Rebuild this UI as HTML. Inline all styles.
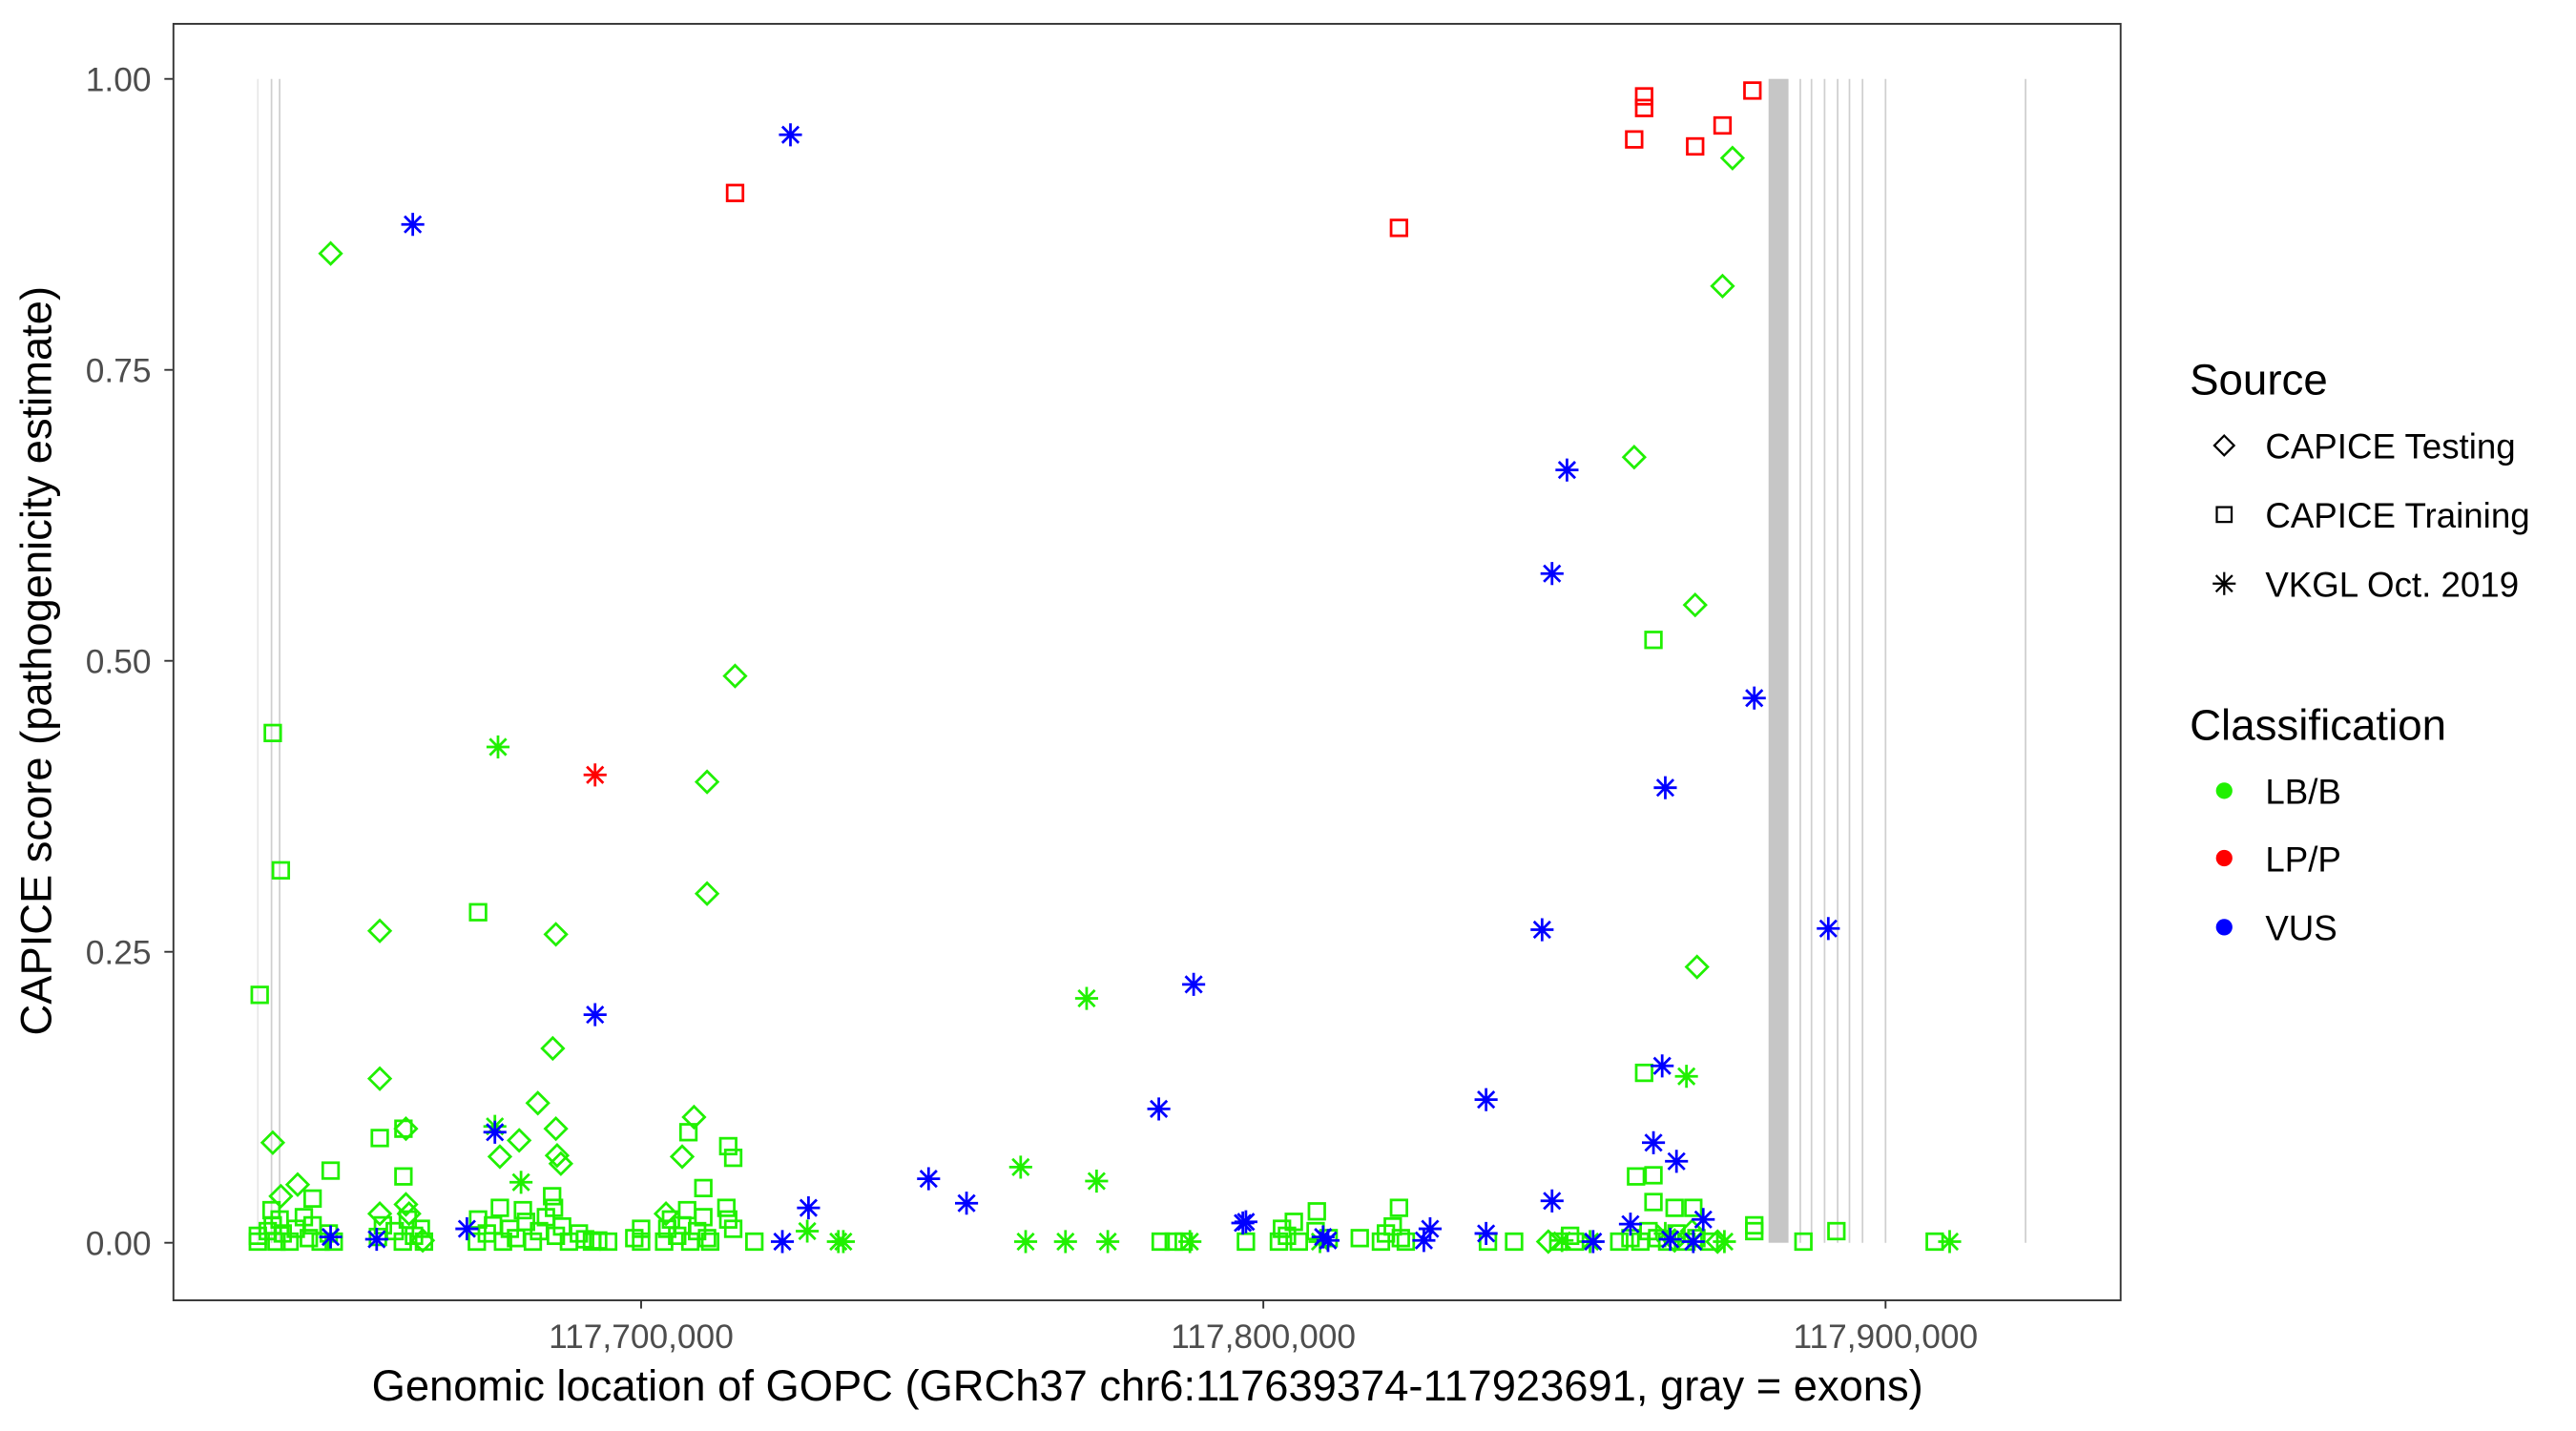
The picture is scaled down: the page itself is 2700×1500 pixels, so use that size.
<!DOCTYPE html>
<html><head><meta charset="utf-8"><style>
html,body{margin:0;padding:0;background:#fff;}
svg{display:block;font-family:"Liberation Sans",sans-serif;}
</style></head><body>
<svg id="chart" width="2700" height="1500" viewBox="0 0 1567 870.5" preserveAspectRatio="none" xmlns="http://www.w3.org/2000/svg">
<rect x="0" y="0" width="1567" height="870.5" fill="#fff"/>
<g id="exons"></g>
<g id="points"></g>
<rect x="105.5" y="14.5" width="1184.5" height="776.5" fill="none" stroke="#333" stroke-width="1.1"/>
<g id="axes"></g>
<text transform="translate(31,402) rotate(-90)" text-anchor="middle" font-size="26.3" fill="#000">CAPICE score (pathogenicity estimate)</text>
<text x="698" y="852" text-anchor="middle" font-size="26.3" fill="#000">Genomic location of GOPC (GRCh37 chr6:117639374-117923691, gray = exons)</text>
<g font-size="21.3">
<text x="1332" y="240" font-size="26.5">Source</text>
<path d="M1353,265 L1359,271 L1353,277 L1347,271 Z" fill="none" stroke="#000" stroke-width="1.3"/>
<text x="1378" y="279">CAPICE Testing</text>
<rect x="1348.5" y="308.5" width="9" height="9" fill="none" stroke="#000" stroke-width="1.3"/>
<text x="1378" y="321">CAPICE Training</text>
<g stroke="#000" stroke-width="1.3"><line x1="1353" y1="348" x2="1353" y2="362"/><line x1="1346" y1="355" x2="1360" y2="355"/><line x1="1348" y1="350" x2="1358" y2="360"/><line x1="1348" y1="360" x2="1358" y2="350"/></g>
<text x="1378" y="363">VKGL Oct. 2019</text>
<text x="1332" y="450" font-size="26.5">Classification</text>
<circle cx="1353" cy="481" r="5" fill="#20f000"/>
<text x="1378" y="489">LB/B</text>
<circle cx="1353" cy="522" r="5" fill="#ff0000"/>
<text x="1378" y="530">LP/P</text>
<circle cx="1353" cy="564" r="5" fill="#0000ff"/>
<text x="1378" y="572">VUS</text>
</g>
</svg>
<script>
// positions in kb (117,xxx.x kb), scores 0..1
const xTicks = [117700, 117800, 117900];
const xTickLabels = ["117,700,000", "117,800,000", "117,900,000"];
const yTicks = [0, 0.25, 0.5, 0.75, 1];
const yTickLabels = ["0.00", "0.25", "0.50", "0.75", "1.00"];
const exonLinesKb = [117638.4, 117640.6, 117641.9, 117886.3, 117888.1, 117890.2, 117892.3, 117894.2, 117896.3, 117900.0, 117922.5];
const exonBandStart = 117881.2;
const exonBandEnd = 117884.4;

const redSqPos = [117715.1, 117821.8, 117859.6, 117861.2, 117861.2, 117869.4, 117873.8, 117878.6];
const redSqVal = [0.902, 0.872, 0.948, 0.985, 0.975, 0.942, 0.96, 0.99];
const redStarPos = [117692.6];
const redStarVal = [0.402];
const blueStarPos = [117663.3, 117724.0, 117692.6, 117676.5, 117650.1, 117657.5, 117672.0, 117722.7, 117726.9, 117746.2, 117752.3, 117783.2, 117788.8, 117796.7, 117797.2, 117809.6, 117810.4, 117825.8, 117826.8, 117835.8, 117835.8, 117844.8, 117846.4, 117846.4, 117848.8, 117853.0, 117859.0, 117862.7, 117864.1, 117864.6, 117866.4, 117865.4, 117869.1, 117870.7, 117878.9, 117890.8];
const blueStarVal = [0.875, 0.952, 0.196, 0.095, 0.005, 0.003, 0.012, 0.001, 0.03, 0.055, 0.034, 0.115, 0.222, 0.017, 0.018, 0.005, 0.002, 0.002, 0.012, 0.123, 0.008, 0.269, 0.575, 0.036, 0.664, 0.001, 0.016, 0.086, 0.152, 0.391, 0.07, 0.003, 0.001, 0.02, 0.468, 0.27];
const greenStarPos = [117677.0, 117676.5, 117680.7, 117726.7, 117731.7, 117732.5, 117761.0, 117761.8, 117768.2, 117771.6, 117773.2, 117775.0, 117788.2, 117809.1, 117868.0, 117874.1, 117910.3, 117864.6, 117852.5, 117848.0];
const greenStarVal = [0.426, 0.1, 0.052, 0.01, 0.001, 0.001, 0.065, 0.001, 0.001, 0.21, 0.053, 0.001, 0.001, 0.001, 0.143, 0.001, 0.001, 0.008, 0.001, 0.002];
const greenDiaPos = [117650.1, 117640.8, 117642.1, 117644.8, 117658.0, 117658.0, 117658.0, 117662.2, 117662.2, 117662.7, 117664.9, 117677.3, 117680.4, 117683.4, 117685.8, 117686.3, 117686.3, 117686.5, 117687.1, 117704.0, 117706.6, 117708.5, 117710.6, 117710.6, 117715.1, 117859.6, 117873.8, 117875.4, 117869.4, 117869.7, 117868.9, 117873.0, 117845.8, 117866.1];
const greenDiaVal = [0.85, 0.086, 0.04, 0.05, 0.268, 0.141, 0.025, 0.098, 0.033, 0.025, 0.002, 0.074, 0.088, 0.12, 0.167, 0.265, 0.098, 0.075, 0.068, 0.025, 0.074, 0.108, 0.396, 0.3, 0.487, 0.675, 0.822, 0.932, 0.548, 0.237, 0.01, 0.001, 0.001, 0.002];
const greenSqPos = [117638.7, 117640.8, 117642.1, 117673.8, 117862.7, 117861.2, 117650.1, 117658.0, 117661.8, 117661.8, 117707.6, 117714.0, 117714.8, 117710.0, 117859.9, 117862.7, 117862.7, 117866.1, 117869.1, 117808.6, 117821.8, 117878.9, 117878.9, 117892.1, 117886.8, 117907.9,
 117638.4, 117638.4, 117640.0, 117640.6, 117640.8, 117641.4, 117641.9, 117642.4, 117643.5, 117644.5, 117645.8, 117646.6, 117647.2, 117647.2, 117648.5, 117649.8, 117650.6, 117657.7, 117658.5, 117660.4, 117661.7, 117662.5, 117663.5, 117664.6, 117665.1,
 117673.6, 117673.8, 117675.2, 117676.2, 117677.3, 117677.8, 117678.9, 117679.9, 117681.0, 117681.5, 117682.6, 117683.6, 117684.7, 117685.7, 117686.0, 117686.3, 117687.3, 117688.4, 117690.0, 117691.0, 117692.1, 117693.1, 117694.7, 117698.9, 117700.0, 117700.0,
 117703.7, 117704.2, 117704.8, 117705.8, 117706.6, 117707.4, 117707.9, 117709.0, 117710.0, 117710.6, 117711.1, 117713.7, 117714.0, 117714.8, 117718.2,
 117783.5, 117785.6, 117787.2, 117797.2, 117802.5, 117803.0, 117803.8, 117804.9, 117805.7, 117808.4, 117810.5, 117815.5, 117818.9, 117819.7, 117820.8, 117822.1, 117822.9, 117836.1, 117840.3, 117847.4, 117849.3, 117850.1, 117857.2, 117859.0, 117860.6, 117861.9, 117863.3, 117864.9, 117866.4, 117868.0, 117869.6, 117871.7];
const greenSqVal = [0.213, 0.438, 0.32, 0.284, 0.518, 0.146, 0.062, 0.09, 0.057, 0.098, 0.095, 0.083, 0.073, 0.047, 0.057, 0.058, 0.035, 0.03, 0.03, 0.027, 0.03, 0.015, 0.01, 0.01, 0.001, 0.001,
 0.001, 0.006, 0.01, 0.028, 0.015, 0.001, 0.02, 0.008, 0.001, 0.012, 0.022, 0.004, 0.038, 0.015, 0.001, 0.008, 0.001, 0.005, 0.015, 0.01, 0.001, 0.02, 0.006, 0.012, 0.001,
 0.001, 0.02, 0.008, 0.015, 0.03, 0.001, 0.012, 0.004, 0.028, 0.018, 0.001, 0.01, 0.022, 0.04, 0.03, 0.006, 0.014, 0.001, 0.008, 0.003, 0.001, 0.002, 0.001, 0.004, 0.012, 0.001,
 0.001, 0.012, 0.02, 0.006, 0.015, 0.028, 0.001, 0.01, 0.022, 0.004, 0.001, 0.03, 0.02, 0.012, 0.001,
 0.001, 0.001, 0.001, 0.001, 0.001, 0.012, 0.006, 0.018, 0.001, 0.01, 0.004, 0.004, 0.001, 0.008, 0.014, 0.004, 0.001, 0.001, 0.001, 0.001, 0.006, 0.001, 0.001, 0.004, 0.001, 0.01, 0.004, 0.001, 0.008, 0.001, 0.004, 0.001];

const NS = "http://www.w3.org/2000/svg";
function xs(kb) { return 390 + (kb - 117700) * 3.785; }
function ys(v) { return 756 - v * 708; }
function mk(tag, attrs, parent) {
  const e = document.createElementNS(NS, tag);
  for (const k in attrs) e.setAttribute(k, attrs[k]);
  parent.appendChild(e);
  return e;
}
const gEx = document.getElementById("exons");
const gPts = document.getElementById("points");
const gAx = document.getElementById("axes");

exonLinesKb.forEach((kb, i) => {
  const l = mk("line", {x1: xs(kb), x2: xs(kb), y1: ys(1), y2: ys(0), stroke: i === 0 ? "#e8e8e8" : "#cfcfcf", "stroke-width": 1}, gEx);
  
  
});
const band = mk("rect", {x: xs(exonBandStart), y: ys(1), width: xs(exonBandEnd) - xs(exonBandStart), height: ys(0) - ys(1), fill: "#c6c6c6"}, gEx);



yTicks.forEach((v, i) => {
  const t = mk("line", {x1: 100, x2: 105, y1: ys(v), y2: ys(v), stroke: "#333", "stroke-width": 1.1}, gAx);
  
  
  const tx = mk("text", {x: 92, y: ys(v) + 7.3, "text-anchor": "end", "font-size": 20.5, fill: "#4d4d4d"}, gAx);
  tx.textContent = yTickLabels[i];
  
  
});
xTicks.forEach((kb, i) => {
  const t = mk("line", {x1: xs(kb), x2: xs(kb), y1: 791, y2: 796, stroke: "#333", "stroke-width": 1.1}, gAx);
  
  
  const tx = mk("text", {x: xs(kb), y: 820, "text-anchor": "middle", "font-size": 20.5, fill: "#4d4d4d"}, gAx);
  tx.textContent = xTickLabels[i];
  
  
});

function square(x, y, c) {
  const e = mk("rect", {x: x - 4.8, y: y - 4.8, width: 9.6, height: 9.6, fill: "none", stroke: c, "stroke-width": 1.6}, gPts);
  
  
}
function diamond(x, y, c) {
  const r = 6.5;
  const e = mk("path", {d: `M${x},${y - r} L${x + r},${y} L${x},${y + r} L${x - r},${y} Z`, fill: "none", stroke: c, "stroke-width": 1.6}, gPts);
  
  
}
function star(x, y, c) {
  const r = 7, q = 5;
  const d = `M${x},${y - r}L${x},${y + r}M${x - r},${y}L${x + r},${y}M${x - q},${y - q}L${x + q},${y + q}M${x - q},${y + q}L${x + q},${y - q}`;
  const e = mk("path", {d: d, fill: "none", stroke: c, "stroke-width": 1.6}, gPts);
  
  
}
const G = "#20f000", R = "#ff0000", B = "#0000ff";
greenSqPos.forEach((p, i) => square(xs(p), ys(greenSqVal[i]), G));
greenDiaPos.forEach((p, i) => diamond(xs(p), ys(greenDiaVal[i]), G));
greenStarPos.forEach((p, i) => star(xs(p), ys(greenStarVal[i]), G));
redSqPos.forEach((p, i) => square(xs(p), ys(redSqVal[i]), R));
redStarPos.forEach((p, i) => star(xs(p), ys(redStarVal[i]), R));
blueStarPos.forEach((p, i) => star(xs(p), ys(blueStarVal[i]), B));
</script>
</body></html>
